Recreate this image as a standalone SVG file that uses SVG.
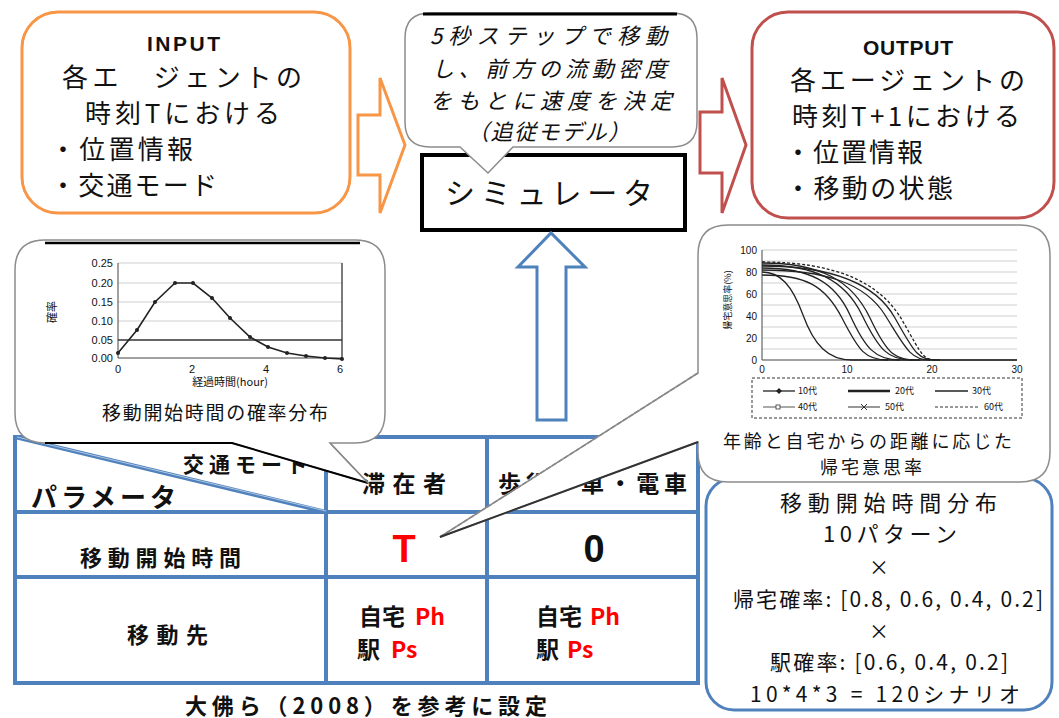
<svg xmlns="http://www.w3.org/2000/svg" width="1059" height="718" viewBox="0 0 1059 718">
<style>
text{font-family:"Liberation Sans","Noto Sans CJK JP",sans-serif;fill:#111}
.jp{font-family:"Noto Sans CJK JP","Liberation Sans",sans-serif}
.b{font-weight:bold}
.red{fill:#ff0000}
.tl{stroke:#4F81BD;stroke-width:4;fill:none}
.bub{fill:#fff;stroke:#8c8c8c;stroke-width:1.5}
.grid{stroke:#cfcfcf;stroke-width:1}
.ax{stroke:#444;stroke-width:1;fill:none}
.cv{fill:none;stroke:#222;stroke-width:1.3}
</style>
<rect width="1059" height="718" fill="#fff"/>

<!-- table -->
<g id="table">
  <rect x="15" y="437" width="683" height="246" class="tl"/>
  <line x1="326" y1="437" x2="326" y2="683" class="tl"/>
  <line x1="487" y1="437" x2="487" y2="683" class="tl"/>
  <line x1="15" y1="512" x2="698" y2="512" class="tl"/>
  <line x1="15" y1="577" x2="698" y2="577" class="tl"/>
  <line x1="15" y1="437" x2="326" y2="512" stroke="#4F81BD" stroke-width="4"/>
  <line x1="17" y1="437" x2="326" y2="511" stroke="#ffffff" stroke-width="0.8" opacity="0.7"/>
  <text class="jp b" x="183" y="472" font-size="21" textLength="125">交通モード</text>
  <text class="jp b" x="31" y="507" font-size="26" textLength="145">パラメータ</text>
  <text class="jp b" x="362" y="492" font-size="23" textLength="84">滞在者</text>
  <text class="jp b" x="498" y="492" font-size="23" textLength="189">歩行・車・電車</text>
  <text class="jp b" x="80" y="566" font-size="22" textLength="161">移動開始時間</text>
  <text class="b red" x="404" y="562" font-size="38" text-anchor="middle">T</text>
  <text class="b" x="594" y="562" font-size="38" text-anchor="middle">0</text>
  <text class="jp b" x="127" y="643" font-size="22" textLength="81">移動先</text>
  <text class="jp b" x="359" y="625" font-size="23">自宅<tspan class="red" x="415">Ph</tspan></text>
  <text class="jp b" x="357" y="658" font-size="23">駅<tspan class="red" x="391">Ps</tspan></text>
  <text class="jp b" x="536" y="625" font-size="23">自宅<tspan class="red" x="590">Ph</tspan></text>
  <text class="jp b" x="536" y="658" font-size="23">駅<tspan class="red" x="567">Ps</tspan></text>
  <text class="jp b" x="185" y="714" font-size="22" textLength="362">大佛ら（2008）を参考に設定</text>
</g>

<!-- scenario box -->
<g id="scenarios">
  <rect x="706" y="478" width="346" height="232" rx="28" fill="#fff" stroke="#4F81BD" stroke-width="3"/>
  <text class="jp" x="780" y="511" font-size="22" textLength="217">移動開始時間分布</text>
  <text class="jp" x="823" y="542" font-size="22" textLength="134">10パターン</text>
  <text class="jp" x="879" y="575" font-size="20" text-anchor="middle">×</text>
  <text class="jp" x="733" y="607" font-size="21" textLength="310">帰宅確率: [0.8, 0.6, 0.4, 0.2]</text>
  <text class="jp" x="879" y="639" font-size="20" text-anchor="middle">×</text>
  <text class="jp" x="770" y="670" font-size="21" textLength="238">駅確率: [0.6, 0.4, 0.2]</text>
  <text class="jp" x="750" y="702" font-size="21" textLength="270">10*4*3 = 120シナリオ</text>
</g>

<!-- simulator -->
<g id="simulator">
  <rect x="422" y="155" width="263" height="75" fill="#fff" stroke="#000" stroke-width="4"/>
  <text class="jp" x="445" y="204" font-size="30" textLength="208">シミュレータ</text>
</g>

<!-- connectors -->
<g id="connectors">
  <polygon points="358,115 380,115 380,78 405,145 380,213 380,175 358,175" fill="#fff" stroke="#F79646" stroke-width="3"/>
  <polygon points="700,112 722,112 722,78 746,145 722,213 722,173 700,173" fill="#fff" stroke="#C0504D" stroke-width="3"/>
  <polygon points="537,420 537,267 518,267 551,233 585,267 566,267 566,420" fill="#fff" stroke="#4F81BD" stroke-width="3"/>
</g>

<!-- input -->
<g id="input">
  <rect x="22" y="12" width="328" height="201" rx="36" fill="#fff" stroke="#F79646" stroke-width="3"/>
  <text class="b" x="147" y="51" font-size="21" textLength="73">INPUT</text>
  <text class="jp" x="62" y="87" font-size="26" textLength="240">各エ　ジェントの</text>
  <text class="jp" x="85" y="123" font-size="26" textLength="195">時刻Tにおける</text>
  <text class="jp" x="50" y="159" font-size="26" textLength="143">・位置情報</text>
  <text class="jp" x="50" y="195" font-size="26" textLength="167">・交通モード</text>
</g>

<!-- output -->
<g id="output">
  <rect x="752" y="12" width="302" height="206" rx="36" fill="#fff" stroke="#C0504D" stroke-width="3"/>
  <text class="b" x="863" y="55" font-size="21" textLength="90">OUTPUT</text>
  <text class="jp" x="790" y="90" font-size="26" textLength="235">各エージェントの</text>
  <text class="jp" x="792" y="126" font-size="26" textLength="228">時刻T+1における</text>
  <text class="jp" x="785" y="162" font-size="26" textLength="138">・位置情報</text>
  <text class="jp" x="785" y="198" font-size="26" textLength="168">・移動の状態</text>
</g>

<!-- center speech bubble -->
<g id="model-note">
  <path class="bub" d="M430,13 L672,13 Q697,13 697,38 L697,122 Q697,147 672,147 L513,147 L488,173 L460,147 L430,147 Q405,147 405,122 L405,38 Q405,13 430,13 Z"/>
  <line x1="423" y1="14" x2="677" y2="14" stroke="#000" stroke-width="3"/>
  <g font-style="italic" font-size="22">
    <text class="jp" x="430" y="44" textLength="237">5秒ステップで移動</text>
    <text class="jp" x="432" y="77" textLength="235">し、前方の流動密度</text>
    <text class="jp" x="430" y="109" textLength="242">をもとに速度を決定</text>
    <text class="jp" x="467" y="140" textLength="163">（追従モデル）</text>
  </g>
</g>

<!-- left chart bubble -->
<g id="start-time-chart">
  <path class="bub" d="M45,240 L355,240 Q385,240 385,270 L385,413 Q385,443 355,443 L330,443 L368,483 L232,443 L45,443 Q15,443 15,413 L15,270 Q15,240 45,240 Z"/>
  <line x1="45" y1="243" x2="360" y2="243" stroke="#000" stroke-width="2.5"/>
  <polyline points="45,443 232,443 368,483" fill="none" stroke="#000" stroke-width="2"/>
  <line x1="330" y1="443" x2="368" y2="483" stroke="#888" stroke-width="1.2"/>
  <g>
    <line class="grid" x1="118" y1="263" x2="342" y2="263"/>
    <line class="grid" x1="118" y1="283" x2="342" y2="283"/>
    <line class="grid" x1="118" y1="302" x2="342" y2="302"/>
    <line class="grid" x1="118" y1="321" x2="342" y2="321"/>
    <line x1="118" y1="340" x2="342" y2="340" stroke="#333" stroke-width="1.3"/>
    <line class="ax" x1="118" y1="263" x2="118" y2="358"/>
    <line class="ax" x1="118" y1="358" x2="342" y2="358"/>
    <line x1="342" y1="263" x2="342" y2="358" stroke="#333" stroke-width="1.3"/>
    <g text-anchor="end">
      <text x="113" y="267" font-size="11">0.25</text>
      <text x="113" y="287" font-size="11">0.20</text>
      <text x="113" y="306" font-size="11">0.15</text>
      <text x="113" y="325" font-size="11">0.10</text>
      <text x="113" y="344" font-size="11">0.05</text>
      <text x="113" y="362" font-size="11">0.00</text>
    </g>
    <g text-anchor="middle">
      <text x="118" y="373" font-size="11">0</text>
      <text x="192" y="373" font-size="11">2</text>
      <text x="266" y="373" font-size="11">4</text>
      <text x="340" y="373" font-size="11">6</text>
      <text class="jp" x="230" y="386" font-size="11">経過時間(hour)</text>
    </g>
    <text class="jp" x="52" y="316" font-size="11" text-anchor="middle" transform="rotate(-90 52 312)">確率</text>
    <polyline points="118,353 137,330 155,302 175,283 193,283 212,298 230,318 250,337 268,347 287,353 306,356 325,358 342,359" fill="none" stroke="#222" stroke-width="1.6"/>
    <g fill="#222">
      <circle cx="118" cy="353" r="2"/><circle cx="137" cy="330" r="2"/><circle cx="155" cy="302" r="2"/>
      <circle cx="175" cy="283" r="2"/><circle cx="193" cy="283" r="2"/><circle cx="212" cy="298" r="2"/>
      <circle cx="230" cy="318" r="2"/><circle cx="250" cy="337" r="2"/><circle cx="268" cy="347" r="2"/>
      <circle cx="287" cy="353" r="2"/><circle cx="306" cy="356" r="2"/><circle cx="325" cy="358" r="2"/>
      <circle cx="342" cy="359" r="2"/>
    </g>
  </g>
  <text class="jp" x="102" y="420" font-size="19" textLength="226">移動開始時間の確率分布</text>
</g>

<!-- right chart bubble -->
<g id="return-rate-chart">
  <path class="bub" d="M698,373 L698,255 Q698,225 728,225 L1020,225 Q1050,225 1050,255 L1050,452 Q1050,482 1020,482 L728,482 Q698,482 698,452 L698,442 L440,537 Z"/>
  <line x1="698" y1="373" x2="440" y2="537" stroke="#888" stroke-width="1.5" stroke-dasharray="5 2"/>
  <line x1="698" y1="442" x2="440" y2="537" stroke="#333" stroke-width="2"/>
  <g>
    <line class="grid" x1="762" y1="250" x2="1017" y2="250"/>
    <line class="grid" x1="762" y1="261" x2="1017" y2="261"/>
    <line class="grid" x1="762" y1="272" x2="1017" y2="272"/>
    <line class="grid" x1="762" y1="283" x2="1017" y2="283"/>
    <line class="grid" x1="762" y1="294" x2="1017" y2="294"/>
    <line class="grid" x1="762" y1="305" x2="1017" y2="305"/>
    <line class="grid" x1="762" y1="316" x2="1017" y2="316"/>
    <line class="grid" x1="762" y1="327" x2="1017" y2="327"/>
    <line class="grid" x1="762" y1="338" x2="1017" y2="338"/>
    <line class="grid" x1="762" y1="349" x2="1017" y2="349"/>
    <line class="ax" x1="762" y1="250" x2="762" y2="360"/>
    <line class="ax" x1="762" y1="360" x2="1017" y2="360"/>
    <g text-anchor="end">
      <text x="757" y="254" font-size="10">100</text>
      <text x="757" y="276" font-size="10">80</text>
      <text x="757" y="298" font-size="10">60</text>
      <text x="757" y="320" font-size="10">40</text>
      <text x="757" y="342" font-size="10">20</text>
      <text x="757" y="364" font-size="10">0</text>
    </g>
    <g text-anchor="middle">
      <text x="762" y="373" font-size="10">0</text>
      <text x="847" y="373" font-size="10">10</text>
      <text x="932" y="373" font-size="10">20</text>
      <text x="1017" y="373" font-size="10">30</text>
    </g>
    <text class="jp" x="728" y="303" font-size="9" text-anchor="middle" transform="rotate(-90 728 300)">帰宅意思率(%)</text>
    <path class="cv" d="M762,272 C780,272 792,285 803,315 S828,360 852,360 L1017,360"/>
    <path class="cv" d="M762,275 C805,275 825,285 842,318 S865,360 888,360"/>
    <path class="cv" d="M762,268 C810,268 835,282 850,315 S875,360 900,360"/>
    <path class="cv" stroke-width="2.2" d="M762,265 C815,265 845,280 862,315 S888,360 912,360"/>
    <path class="cv" stroke-width="2.2" d="M762,263 C820,263 852,280 870,318 S895,360 920,360"/>
    <path class="cv" d="M762,270 C825,270 865,283 885,315 S910,360 930,360"/>
    <path class="cv" stroke-width="1.8" d="M762,266 C830,266 875,282 895,318 S918,360 938,360"/>
    <path class="cv" stroke-dasharray="3 2" d="M762,262 C835,262 880,282 902,320 S922,360 940,360"/>
    <rect x="752" y="378" width="270" height="40" fill="#fff" stroke="#333" stroke-width="1" stroke-dasharray="3 2"/>
    <line x1="763" y1="391" x2="795" y2="391" stroke="#222" stroke-width="1.3"/>
    <polygon points="779,388 782,391 779,394 776,391" fill="#222"/>
    <text class="jp" x="798" y="394" font-size="9">10代</text>
    <line x1="848" y1="391" x2="890" y2="391" stroke="#222" stroke-width="2.4"/>
    <text class="jp" x="895" y="394" font-size="9">20代</text>
    <line x1="935" y1="391" x2="968" y2="391" stroke="#222" stroke-width="1.3"/>
    <text class="jp" x="972" y="394" font-size="9">30代</text>
    <line x1="763" y1="407" x2="795" y2="407" stroke="#555" stroke-width="1"/>
    <rect x="776" y="405" width="4" height="4" fill="#fff" stroke="#333" stroke-width="0.8"/>
    <text class="jp" x="798" y="410" font-size="9">40代</text>
    <line x1="848" y1="407" x2="880" y2="407" stroke="#333" stroke-width="1"/>
    <path d="M861,404 L867,410 M867,404 L861,410" stroke="#333" stroke-width="1"/>
    <text class="jp" x="885" y="410" font-size="9">50代</text>
    <line x1="935" y1="407" x2="978" y2="407" stroke="#333" stroke-width="1" stroke-dasharray="3 2"/>
    <text class="jp" x="984" y="410" font-size="9">60代</text>
  </g>
  <text class="jp" x="723" y="448" font-size="18" textLength="289">年齢と自宅からの距離に応じた</text>
  <text class="jp" x="820" y="474" font-size="18" textLength="102">帰宅意思率</text>
</g>
</svg>
